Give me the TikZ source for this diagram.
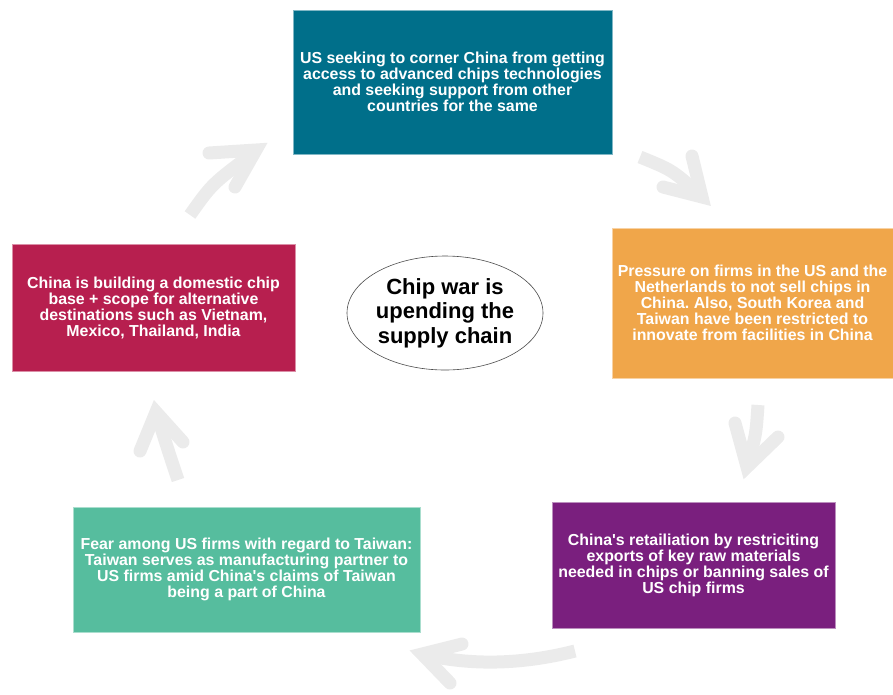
\documentclass[tikz,border=0pt]{standalone}
\usepackage{fontspec}
\setmainfont{Liberation Sans}
\usetikzlibrary{shapes.geometric}
\frenchspacing

\definecolor{chipteal}{RGB}{0,111,138}
\definecolor{chiporange}{RGB}{240,166,74}
\definecolor{chippurple}{RGB}{122,31,126}
\definecolor{chipgreen}{RGB}{86,189,158}
\definecolor{chipcrimson}{RGB}{183,31,79}

\begin{document}
\begin{tikzpicture}[
    x=1pt,
    y=-1pt,
    stage/.style={
        rectangle,
        fill=#1,
        draw=#1!50,
        line width=0.8pt,
        text=white,
        font=\fontsize{15.9}{16}\selectfont\bfseries,
        align=center,
        inner sep=0pt
    },
    hub/.style={
        ellipse,
        draw=black!70,
        line width=0.6pt,
        fill=white,
        minimum width=196pt,
        minimum height=114pt,
        font=\fontsize{22}{24.5}\selectfont\bfseries,
        align=center,
        inner sep=0pt
    },
    shaft/.style={draw=black!8, line width=13pt},
    barb/.style={draw=black!8, line width=13pt, line cap=round, line join=miter}
]

\useasboundingbox (0,0) rectangle (893,694);

% Cycle arrows
\draw[shaft] (190,215) .. controls (212,184) .. (252,154);
\draw[barb] (209,153) -- (256,150) -- (235,187);

\draw[shaft] (640,157) .. controls (672,170) .. (698,193);
\draw[barb] (663,187) -- (702,197) -- (692,156);

\draw[shaft] (758,405) .. controls (756,435) .. (748,462);
\draw[barb] (735,423) -- (747,467) -- (778,437);

\draw[shaft] (575,651) .. controls (520,665) and (470,665) .. (426,655);
\draw[barb] (462,644) -- (422,654) -- (450,683);

\draw[shaft] (178,480) .. controls (168,450) .. (158,418);
\draw[barb] (140,451) -- (156,412) -- (183,442);

% Centre
\node[hub] (hub) at (445,313) {Chip war is\\upending the\\supply chain};

% Stages
\node[stage=chipteal, minimum width=319pt, minimum height=144pt] (corner) at (452.5,82)
    {US seeking to corner China from getting\\access to advanced chips technologies\\and seeking support from other\\countries for the same};
\node[stage=chiporange, minimum width=281pt, minimum height=150pt] (pressure) at (752.5,303)
    {Pressure on firms in the US and the\\Netherlands to not sell chips in\\China. Also, South Korea and\\Taiwan have been restricted to\\innovate from facilities in China};
\node[stage=chippurple, minimum width=283pt, minimum height=126pt] (retaliation) at (693.5,565)
    {China\textquotesingle s retailiation by restriciting\\exports of key raw materials\\needed in chips or banning sales of\\US chip firms};
\node[stage=chipgreen, minimum width=347pt, minimum height=125pt] (taiwan) at (246.5,569.5)
    {Fear among US firms with regard to Taiwan:\\Taiwan serves as manufacturing partner to\\US firms amid China\textquotesingle s claims of Taiwan\\being a part of China};
\node[stage=chipcrimson, minimum width=283pt, minimum height=127pt] (domestic) at (153.5,307.5)
    {China is building a domestic chip\\base + scope for alternative\\destinations such as Vietnam,\\Mexico, Thailand, India};

\end{tikzpicture}
\end{document}
